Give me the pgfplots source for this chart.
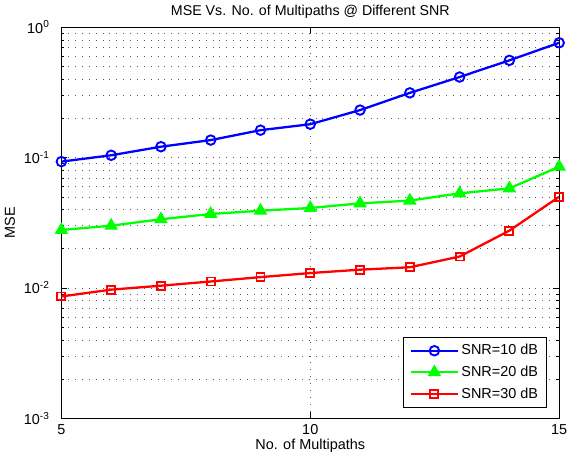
\documentclass[border=0pt]{standalone}
\usepackage{fontspec}
\setmainfont{Liberation Sans}
\usepackage{pgfplots}
\pgfplotsset{compat=1.18}
\definecolor{mblue}{RGB}{0,0,255}
\definecolor{mgreen}{RGB}{0,255,0}
\definecolor{mred}{RGB}{255,0,0}
\begin{document}
\fontsize{14.5}{16}\selectfont
\begin{tikzpicture}
\begin{semilogyaxis}[
  scale only axis, width=500pt, height=393pt,
  xmin=5, xmax=15, ymin=1e-3, ymax=1,
  /pgf/number format/assume math mode=true,
  xtick={5,10,15},
  ytick={1e-3,1e-2,1e-1,1},
  yticklabels={10\textsuperscript{-3},10\textsuperscript{-2},10\textsuperscript{-1},10\textsuperscript{0}},
  minor ytick={2e-3,3e-3,4e-3,5e-3,6e-3,7e-3,8e-3,9e-3,2e-2,3e-2,4e-2,5e-2,6e-2,7e-2,8e-2,9e-2,0.2,0.3,0.4,0.5,0.6,0.7,0.8,0.9},
  xmajorgrids, ymajorgrids, yminorgrids,
  major grid style={dash pattern=on 0.9pt off 6pt, black!65},
  minor grid style={dash pattern=on 0.9pt off 6pt, black!65},
  tick align=inside,
  major tick length=6pt, minor tick length=3pt,
  tick style={black, thin},
  axis line style={black, thin},
  tick label style={font=\fontsize{14.5}{16}\selectfont},
  yticklabel style={xshift=-7pt},
  xticklabel style={yshift=-1pt},
  title={MSE Vs. No. of Multipaths @ Different SNR},
  title style={font=\fontsize{14.3}{16}\selectfont, yshift=-2pt},
  xlabel={No. of Multipaths},
  ylabel={MSE},
  label style={font=\fontsize{14.5}{16}\selectfont},
  xlabel style={yshift=5pt},
  ylabel style={yshift=-1pt},
  legend style={at={(axis description cs:0.974,0.028)}, anchor=south east, draw=black, thin, font=\fontsize{14.5}{16}\selectfont, row sep=5pt, inner sep=5pt, inner xsep=6pt},
  legend cell align=left,
  legend image code/.code={\draw[mark repeat=2,mark phase=2] plot coordinates {(0pt,0pt)(24pt,0pt)(48pt,0pt)};},
  every axis plot/.append style={line width=2.3pt, mark options={solid, line width=1.9pt}},
]
\addplot[color=mblue, mark=o, mark size=4.8pt] coordinates {
(5,0.093) (6,0.104) (7,0.121) (8,0.136) (9,0.162) (10,0.180) (11,0.231) (12,0.313) (13,0.414) (14,0.556) (15,0.758)};
\addlegendentry{SNR=10 dB}
\addplot[color=mgreen, mark=triangle*, mark size=6pt] coordinates {
(5,0.0278) (6,0.0300) (7,0.0336) (8,0.0369) (9,0.0391) (10,0.0410) (11,0.0445) (12,0.0467) (13,0.0531) (14,0.0580) (15,0.0850)};
\addlegendentry{SNR=20 dB}
\addplot[color=mred, mark=square, mark size=4pt] coordinates {
(5,0.0086) (6,0.0097) (7,0.0104) (8,0.0112) (9,0.0121) (10,0.0130) (11,0.0138) (12,0.0144) (13,0.0174) (14,0.0275) (15,0.0500)};
\addlegendentry{SNR=30 dB}
\end{semilogyaxis}
\end{tikzpicture}
\end{document}
